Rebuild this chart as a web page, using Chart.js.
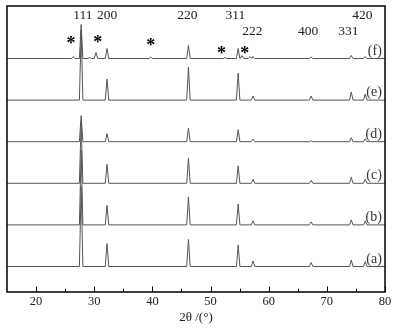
<!DOCTYPE html>
<html>
<head>
<meta charset="utf-8">
<script src="https://cdn.jsdelivr.net/npm/chart.js@4"></script>
<style>
  html, body { margin: 0; padding: 0; background: #fff; }
  #wrap { width: 403px; height: 329px; }
</style>
</head>
<body>
<div id="wrap"><canvas id="c" width="403" height="329"></canvas></div>
<script>
// ---- data ----
const sampleLabels = ['(a)', '(b)', '(c)', '(d)', '(e)', '(f)'];
const peakPos = [27.75, 32.2, 46.2, 54.75, 57.3, 67.3, 74.2, 76.6];
const hklLabels = ['111', '200', '220', '311', '222', '400', '331', '420'];
const intA = [80, 23, 27, 21.5, 5.5, 4, 6.5, 5];
const intB = [75, 19.5, 28, 21, 4, 3, 5, 4];
const intC = [62, 19, 25, 17.5, 4, 3, 6, 4];
const intD = [26, 8, 13.5, 12, 2.5, 1, 4, 3];
const intE = [70, 21, 33, 27, 4, 4, 8, 6];
const intF = [34, 10, 13, 10, 2, 1.5, 3, 2];
const impurityPos = [26.4, 29.2, 30.3, 39.7, 52.5, 55.4, 56.8];
const impurityInt = [2, 1, 6, 1.5, 1, 3, 2];
const offsets = [25.5, 67.1, 108.7, 150.3, 191.9, 233.5];
const xMin = 15, xMax = 80;
const xTicks = [20, 30, 40, 50, 60, 70, 80];
const xMinorTicks = [25, 35, 45, 55, 65, 75];
// label anchor points (data units)
const hklLabelX = [28.05, 32.2, 46.0, 54.25, 57.2, 66.8, 73.7, 76.1];
const hklLabelY = [277, 277, 277, 277, 260.3, 260.3, 260.3, 277];
const starX = [26.0, 30.6, 39.7, 51.9, 55.9];
const starY = [251.3, 252.7, 249.3, 242, 242];

const allInts = [intA, intB, intC, intD, intE, intF];
const halfWidth = 0.3;

function buildSeries(ints, offset, extraPos, extraInt) {
  const peaks = peakPos.map((p, i) => [p, ints[i]]);
  if (extraPos) extraPos.forEach((p, i) => peaks.push([p, extraInt[i]]));
  peaks.sort((a, b) => a[0] - b[0]);
  const pts = [{x: xMin, y: offset}];
  peaks.forEach(([p, h]) => {
    pts.push({x: p - halfWidth, y: offset});
    pts.push({x: p, y: offset + h});
    pts.push({x: p + halfWidth, y: offset});
  });
  pts.push({x: xMax, y: offset});
  return pts;
}

const datasets = allInts.map((ints, k) => ({
  label: sampleLabels[k],
  data: buildSeries(ints, offsets[k], k === 5 ? impurityPos : null, k === 5 ? impurityInt : null),
  borderColor: '#555',
  borderWidth: 1,
  pointRadius: 0,
  tension: 0,
  fill: false
}));

const SERIF = '"Liberation Serif", "Times New Roman", serif';

const decor = {
  id: 'decor',
  afterDatasetsDraw(chart) {
    const {ctx, chartArea: a, scales: {x, y}} = chart;
    ctx.save();
    // frame
    ctx.strokeStyle = '#000';
    ctx.lineWidth = 1.5;
    ctx.strokeRect(a.left, a.top, a.right - a.left, a.bottom - a.top);
    // inward ticks
    ctx.lineWidth = 1;
    xTicks.forEach(v => {
      const px = Math.round(x.getPixelForValue(v)) + 0.5;
      ctx.beginPath(); ctx.moveTo(px, a.bottom); ctx.lineTo(px, a.bottom - 5.5); ctx.stroke();
    });
    xMinorTicks.forEach(v => {
      const px = Math.round(x.getPixelForValue(v)) + 0.5;
      ctx.beginPath(); ctx.moveTo(px, a.bottom); ctx.lineTo(px, a.bottom - 3.3); ctx.stroke();
    });
    // hkl labels
    ctx.fillStyle = '#222';
    ctx.font = '13.5px ' + SERIF;
    ctx.textAlign = 'center';
    ctx.textBaseline = 'middle';
    hklLabels.forEach((t, i) => {
      ctx.fillText(t, x.getPixelForValue(hklLabelX[i]), y.getPixelForValue(hklLabelY[i]));
    });
    // asterisks
    ctx.font = 'bold 18px ' + SERIF;
    ctx.fillStyle = '#000';
    starX.forEach((sx, i) => {
      ctx.fillText('*', x.getPixelForValue(sx), y.getPixelForValue(starY[i]) + 4);
    });
    // sample labels
    ctx.font = '14px ' + SERIF;
    ctx.fillStyle = '#333';
    ctx.textAlign = 'right';
    sampleLabels.forEach((t, k) => {
      ctx.fillText(t, x.getPixelForValue(79.46), y.getPixelForValue(offsets[k] + 7.5));
    });
    ctx.restore();
  }
};

new Chart(document.getElementById('c'), {
  type: 'line',
  data: { datasets },
  options: {
    responsive: false,
    animation: false,
    layout: { padding: { left: 7, right: 18, top: 6, bottom: 0 } },
    plugins: { legend: { display: false }, tooltip: { enabled: false } },
    scales: {
      x: {
        type: 'linear',
        min: xMin, max: xMax,
        afterBuildTicks: s => { s.ticks = xTicks.map(v => ({ value: v })); },
        afterFit: s => { s.height = 37; },
        grid: { display: false, drawTicks: false },
        border: { display: false },
        ticks: { color: '#222', padding: 2, font: { family: SERIF, size: 12.5 }, maxRotation: 0 },
        title: { display: true, text: '2θ /(°)', color: '#222', font: { family: SERIF, size: 13 }, padding: { top: 0, bottom: 4 } }
      },
      y: {
        display: false,
        min: 0, max: 286
      }
    }
  },
  plugins: [decor]
});
</script>
</body>
</html>
